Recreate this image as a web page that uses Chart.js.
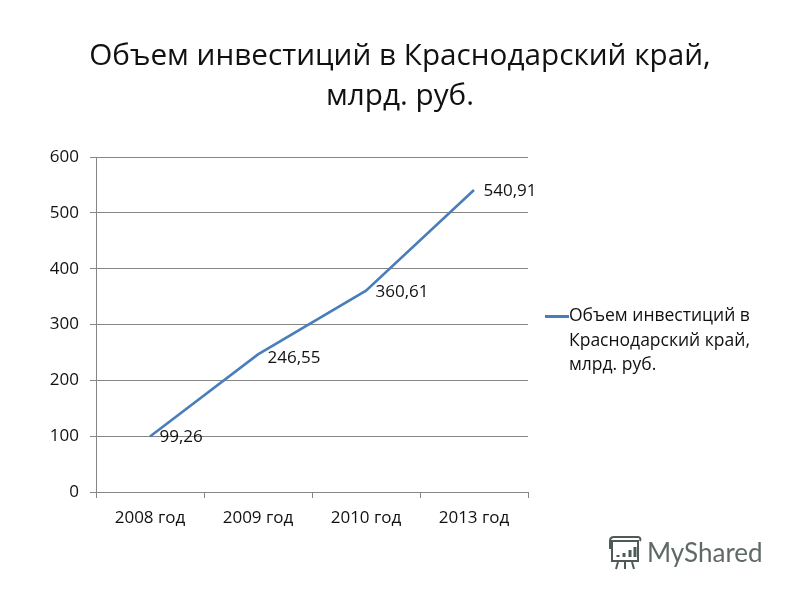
<!DOCTYPE html>
<html><head><meta charset="utf-8">
<script src="https://cdn.jsdelivr.net/npm/chart.js@4"></script>
<style>
html,body{margin:0;padding:0;background:#fff;width:800px;height:600px;overflow:hidden}
#wrap{position:relative;width:800px;height:600px}
#mark{position:absolute;left:606px;top:535px;width:170px;height:40px;color:#5f6968;font:26px Lato,"Open Sans",sans-serif;filter:blur(.4px)}
#mark svg{position:absolute;left:0;top:0}
#mark span{position:absolute;left:41px;top:1px}
</style></head><body>
<div id="wrap"><canvas id="c" width="800" height="600"></canvas>
<div id="mark"><svg width="38" height="36" viewBox="0 0 38 36" fill="none" stroke="#4d5a57" stroke-width="2"><path d="M3 6h30M6 6v20h26V6M4 6c0-3 2-4 4-4h24c2 0 3 2 2 4M4 6v8"/><path d="M12 27l-2 7M19 27v7M26 27l2 7"/><path stroke-width="3" d="M12 22v-2M18 22v-4M24 22v-7M29 22v-10"/></svg><span>MyShared</span></div></div>
<script>
const FONT = '"Open Sans","Noto Sans",sans-serif';
const categories = ['2008 год','2009 год','2010 год','2013 год'];
const values = [99.26,246.55,360.61,540.91];
const valueLabels = ['99,26','246,55','360,61','540,91'];
const yTicks = [0,100,200,300,400,500,600];
const seriesName = ['Объем инвестиций в','Краснодарский край,','млрд. руб.'];
const titleLines = ['Объем инвестиций в Краснодарский край,','млрд. руб.'];
const lineColor = '#4a7ebb';
const legendSwatch = document.createElement('canvas');
legendSwatch.width = 24; legendSwatch.height = 3;
(function(){const g = legendSwatch.getContext('2d'); g.fillStyle = lineColor; g.fillRect(0,0,24,3);})();
const labelPlugin = {
  id:'valueLabels',
  afterDatasetsDraw(chart){
    const ctx = chart.ctx, pts = chart.getDatasetMeta(0).data;
    ctx.save();
    ctx.font = '17px '+FONT; ctx.fillStyle='#111'; ctx.textAlign='left'; ctx.textBaseline='middle';
    pts.forEach((p,i)=>ctx.fillText(valueLabels[i], p.x+9.5, p.y+(i===1?4:1)));
    ctx.restore();
  }
};
const legendFit = {
  id:'legendFit',
  beforeLayout(chart){
    const lg = chart.legend;
    if(lg && !lg._patched){
      const f = lg.fit;
      lg.fit = function(){ f.call(this); this.width = 272; };
      lg._patched = true;
    }
  },
  afterLayout(chart){
    const lg = chart.legend;
    lg.top += 55; lg.bottom += 55;
  }
};
new Chart(document.getElementById('c'),{
  type:'line',
  data:{labels:categories,datasets:[{label:seriesName.join(' '),data:values,borderColor:lineColor,borderWidth:2.6,pointRadius:0,tension:0,fill:false}]},
  plugins:[labelPlugin,legendFit],
  options:{
    responsive:false,animation:false,
    layout:{padding:{top:37,left:0,right:0,bottom:58}},
    plugins:{
      tooltip:{enabled:false},
      title:{display:true,text:titleLines,color:'#111',font:{family:FONT,size:29.7,weight:'normal',lineHeight:1.33},padding:{top:0,bottom:41}},
      legend:{display:true,position:'right',align:'center',
        labels:{color:'#111',font:{family:FONT,size:17.5,lineHeight:1.4},usePointStyle:true,boxWidth:6.5,boxHeight:6.5,padding:25.75,
          generateLabels:(chart)=>[{text:seriesName,fontColor:'#111',strokeStyle:lineColor,fillStyle:lineColor,lineWidth:0,pointStyle:legendSwatch,datasetIndex:0}]}}
    },
    scales:{
      x:{offset:true,afterFit(s){s.height=50;},grid:{drawOnChartArea:false,color:'#868686',tickLength:6,offset:true},border:{color:'#868686'},
         ticks:{color:'#111',font:{family:FONT,size:17},padding:10,maxRotation:0}},
      y:{min:0,max:600,afterFit(s){s.width=96;},grid:{color:'#868686',tickLength:6},border:{color:'#868686'},
         afterBuildTicks(s){s.ticks=yTicks.map(v=>({value:v}));},
         ticks:{color:'#111',font:{family:FONT,size:17},padding:11}}
    }
  }
});
</script></body></html>
